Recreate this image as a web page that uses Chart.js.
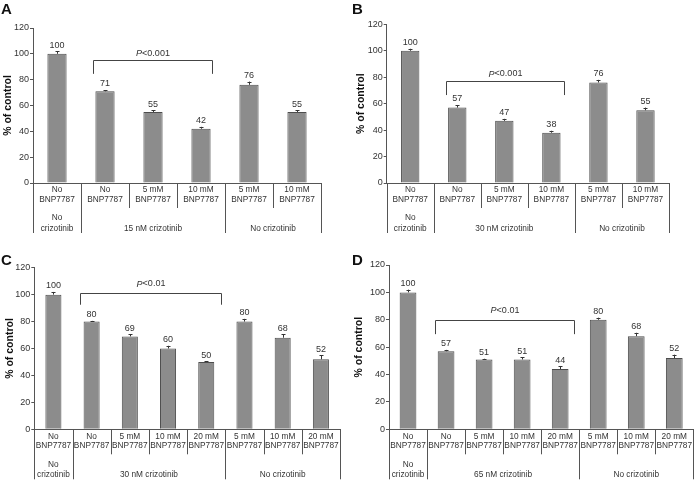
<!DOCTYPE html>
<html>
<head>
<meta charset="utf-8">
<script src="https://cdn.jsdelivr.net/npm/chart.js@4.4.1/dist/chart.umd.min.js"></script>
<style>
  body { margin: 0; background: #fff; }
  #wrap { position: relative; width: 700px; height: 484px; }
  canvas { position: absolute; }
</style>
</head>
<body>
<div id="wrap">
  <canvas id="chartA" width="350" height="240" style="left:0;top:0"></canvas>
  <canvas id="chartB" width="350" height="240" style="left:350px;top:0"></canvas>
  <canvas id="chartC" width="350" height="244" style="left:0;top:240px"></canvas>
  <canvas id="chartD" width="350" height="244" style="left:350px;top:240px"></canvas>
</div>
<script>
// tick labels (bottom row of the table under each chart)
const labels6 = [["No", "BNP7787"], ["No", "BNP7787"], ["5 mM", "BNP7787"], ["10 mM", "BNP7787"], ["5 mM", "BNP7787"], ["10 mM", "BNP7787"]];
const labels8 = [["No", "BNP7787"], ["No", "BNP7787"], ["5 mM", "BNP7787"], ["10 mM", "BNP7787"], ["20 mM", "BNP7787"], ["5 mM", "BNP7787"], ["10 mM", "BNP7787"], ["20 mM", "BNP7787"]];

// group labels (second row) and how many bars each covers
const groupsA = [["No", "crizotinib"], ["15 nM crizotinib"], ["No crizotinib"]];
const groupsB = [["No", "crizotinib"], ["30 nM crizotinib"], ["No crizotinib"]];
const groupsC = [["No", "crizotinib"], ["30 nM crizotinib"], ["No crizotinib"]];
const groupsD = [["No", "crizotinib"], ["65 nM crizotinib"], ["No crizotinib"]];
const groupSize6 = [1, 3, 2];
const groupSize8 = [1, 4, 3];

// % of control
const valuesA = [100, 71, 55, 42, 76, 55];
const valuesB = [100, 57, 47, 38, 76, 55];
const valuesC = [100, 80, 69, 60, 50, 80, 68, 52];
const valuesD = [100, 57, 51, 51, 44, 80, 68, 52];

// error bars (upper only)
const errorsA = [2, 1, 1.5, 1.5, 2.5, 1.5];
const errorsB = [1.5, 2, 1.5, 1.5, 2, 2];
const errorsC = [2, 0.5, 1.5, 2, 0.5, 2, 2.5, 3];
const errorsD = [2, 1, 0.5, 1.5, 2, 1.5, 2.5, 2.5];

// significance brackets: [from bar, to bar], top value, bottom value, text
const sigA = { bars: [1, 3], top: 95, bottom: 84.5, p: "<0.001" };
const sigB = { bars: [1, 3], top: 77.5, bottom: 66.5, p: "<0.001" };
const sigC = { bars: [1, 4], top: 101.5, bottom: 92.5, p: "<0.01" };
const sigD = { bars: [1, 4], top: 80, bottom: 69.5, p: "<0.01" };

const yTicksMax = 120;
const yTicksStep = 20;

const FONT = "'Liberation Sans', Arial, Helvetica, sans-serif";
const TEXT = "#333";
const LINE = "#555";

const panelDecor = {
  id: "panelDecor",
  afterDraw(chart) {
    const o = chart.options.plugins.panelDecor;
    const { ctx, chartArea } = chart;
    const xs = chart.scales.x, ys = chart.scales.y;
    const ds = chart.data.datasets[0];
    const n = ds.data.length;
    const cw = xs.width / n;
    const b = chartArea.bottom;
    ctx.save();

    // panel letter
    ctx.fillStyle = "#111";
    ctx.font = "bold 15px " + FONT;
    ctx.textAlign = "left";
    ctx.textBaseline = "top";
    ctx.fillText(o.letter, o.letterPos[0], o.letterPos[1]);

    // error bars + value labels
    const meta = chart.getDatasetMeta(0);
    ctx.strokeStyle = "#333";
    ctx.lineWidth = 1;
    ctx.font = "9px " + FONT;
    ctx.textAlign = "center";
    ctx.textBaseline = "bottom";
    meta.data.forEach((bar, i) => {
      const v = ds.data[i];
      const yt = ys.getPixelForValue(v + o.errors[i]);
      const x = Math.round(bar.x) + 0.5;
      ctx.beginPath();
      ctx.moveTo(x, bar.y);
      ctx.lineTo(x, yt);
      ctx.moveTo(x - 2, Math.round(yt) + 0.5);
      ctx.lineTo(x + 2, Math.round(yt) + 0.5);
      ctx.stroke();
      ctx.fillStyle = TEXT;
      ctx.fillText(String(v), bar.x, yt - 1.5);
    });

    // label table under the x axis
    ctx.strokeStyle = LINE;
    ctx.fillStyle = TEXT;
    ctx.font = "8.3px " + FONT;
    ctx.textBaseline = "middle";
    const edge = i => xs.getPixelForValue(i) - cw / 2;
    chart.data.labels.forEach((lab, i) => {
      const cx = xs.getPixelForValue(i);
      ctx.fillText(lab[0], cx, b + 7);
      ctx.fillText(lab[1], cx, b + 16.5);
    });
    const longEdges = [0];
    let acc = 0;
    o.groupSizes.forEach(s => { acc += s; longEdges.push(acc); });
    for (let i = 0; i <= n; i++) {
      const xx = Math.round(i === n ? xs.right : edge(i)) + 0.5;
      const len = longEdges.includes(i) ? 50 : 25;
      ctx.beginPath();
      ctx.moveTo(xx, b);
      ctx.lineTo(xx, b + len);
      ctx.stroke();
    }
    let start = 0;
    o.groups.forEach((g, gi) => {
      const s = o.groupSizes[gi];
      const cx = (edge(start) + (start + s === n ? xs.right : edge(start + s))) / 2;
      if (g.length === 2) {
        ctx.fillText(g[0], cx, b + 35);
        ctx.fillText(g[1], cx, b + 45.5);
      } else {
        ctx.fillText(g[0], cx, b + 45.5);
      }
      start += s;
    });

    // significance bracket
    const sg = o.sig;
    const x1 = Math.round(xs.getPixelForValue(sg.bars[0]) - o.bracketPad[0] * cw) + 0.5;
    const x2 = Math.round(xs.getPixelForValue(sg.bars[1]) + o.bracketPad[1] * cw) + 0.5;
    const yTop = Math.round(ys.getPixelForValue(sg.top)) + 0.5;
    const yBot = ys.getPixelForValue(sg.bottom);
    ctx.strokeStyle = "#444";
    ctx.beginPath();
    ctx.moveTo(x1, yBot);
    ctx.lineTo(x1, yTop);
    ctx.lineTo(x2, yTop);
    ctx.lineTo(x2, yBot);
    ctx.stroke();
    ctx.font = "italic 9px " + FONT;
    const wP = ctx.measureText("P").width;
    ctx.font = "9px " + FONT;
    const wR = ctx.measureText(sg.p).width;
    const tx = (x1 + x2) / 2 - (wP + wR) / 2;
    const ty = yTop - o.pGap;
    ctx.textAlign = "left";
    ctx.font = "italic 9px " + FONT;
    ctx.fillText("P", tx, ty);
    ctx.font = "9px " + FONT;
    ctx.fillText(sg.p, tx + wP, ty);

    ctx.restore();
  }
};

function makePanel(id, letter, labels, values, errors, groups, groupSizes, sig, lay) {
  return new Chart(document.getElementById(id), {
    type: "bar",
    data: {
      labels: labels,
      datasets: [{
        data: values,
        backgroundColor: "#8c8c8c",
        borderColor: "#4d4d4d",
        borderWidth: 1,
        categoryPercentage: 1,
        barPercentage: lay.barPct
      }]
    },
    options: {
      responsive: false,
      animation: false,
      layout: { padding: lay.pad },
      plugins: {
        legend: { display: false },
        tooltip: { enabled: false },
        panelDecor: {
          letter: letter, letterPos: lay.letterPos, errors: errors,
          groups: groups, groupSizes: groupSizes, sig: sig,
          bracketPad: lay.bracketPad, pGap: lay.pGap
        }
      },
      scales: {
        x: {
          grid: { display: false },
          ticks: { display: false },
          border: { color: LINE, width: 1 },
          afterFit: s => { s.height = 0; }
        },
        y: {
          min: 0,
          max: yTicksMax,
          ticks: { stepSize: yTicksStep, color: TEXT, font: { family: FONT, size: 9 }, padding: 1 },
          grid: { drawOnChartArea: false, tickLength: 3, color: LINE },
          border: { color: LINE, width: 1 },
          title: { display: true, text: "% of control", color: "#111", font: { family: FONT, size: 10.5, weight: "bold" }, padding: { top: lay.titlePad, bottom: 0 } },
          afterFit: s => { s.width = lay.yWidth; }
        }
      }
    },
    plugins: [panelDecor]
  });
}

makePanel("chartA", "A", labels6, valuesA, errorsA, groupsA, groupSize6, sigA,
  { yWidth: 33, pad: { top: 28, right: 29, bottom: 57, left: 0 }, titlePad: 2, letterPos: [1, 2], barPct: 0.4, bracketPad: [0.25, 0.23], pGap: 7 });
makePanel("chartB", "B", labels6, valuesB, errorsB, groupsB, groupSize6, sigB,
  { yWidth: 36.7, pad: { top: 24.3, right: 31, bottom: 57, left: 0 }, titlePad: 5, letterPos: [2, 2], barPct: 0.39, bracketPad: [0.245, 0.26], pGap: 7.5 });
makePanel("chartC", "C", labels8, valuesC, errorsC, groupsC, groupSize8, sigC,
  { yWidth: 34.3, pad: { top: 27.7, right: 10, bottom: 54.7, left: 0 }, titlePad: 4, letterPos: [1, 13], barPct: 0.42, bracketPad: [0.3, 0.38], pGap: 9.5 });
makePanel("chartD", "D", labels8, valuesD, errorsD, groupsD, groupSize8, sigD,
  { yWidth: 39, pad: { top: 25, right: 6.7, bottom: 54.7, left: 0 }, titlePad: 3, letterPos: [2, 13], barPct: 0.44, bracketPad: [0.29, 0.37], pGap: 10 });
</script>
</body>
</html>
